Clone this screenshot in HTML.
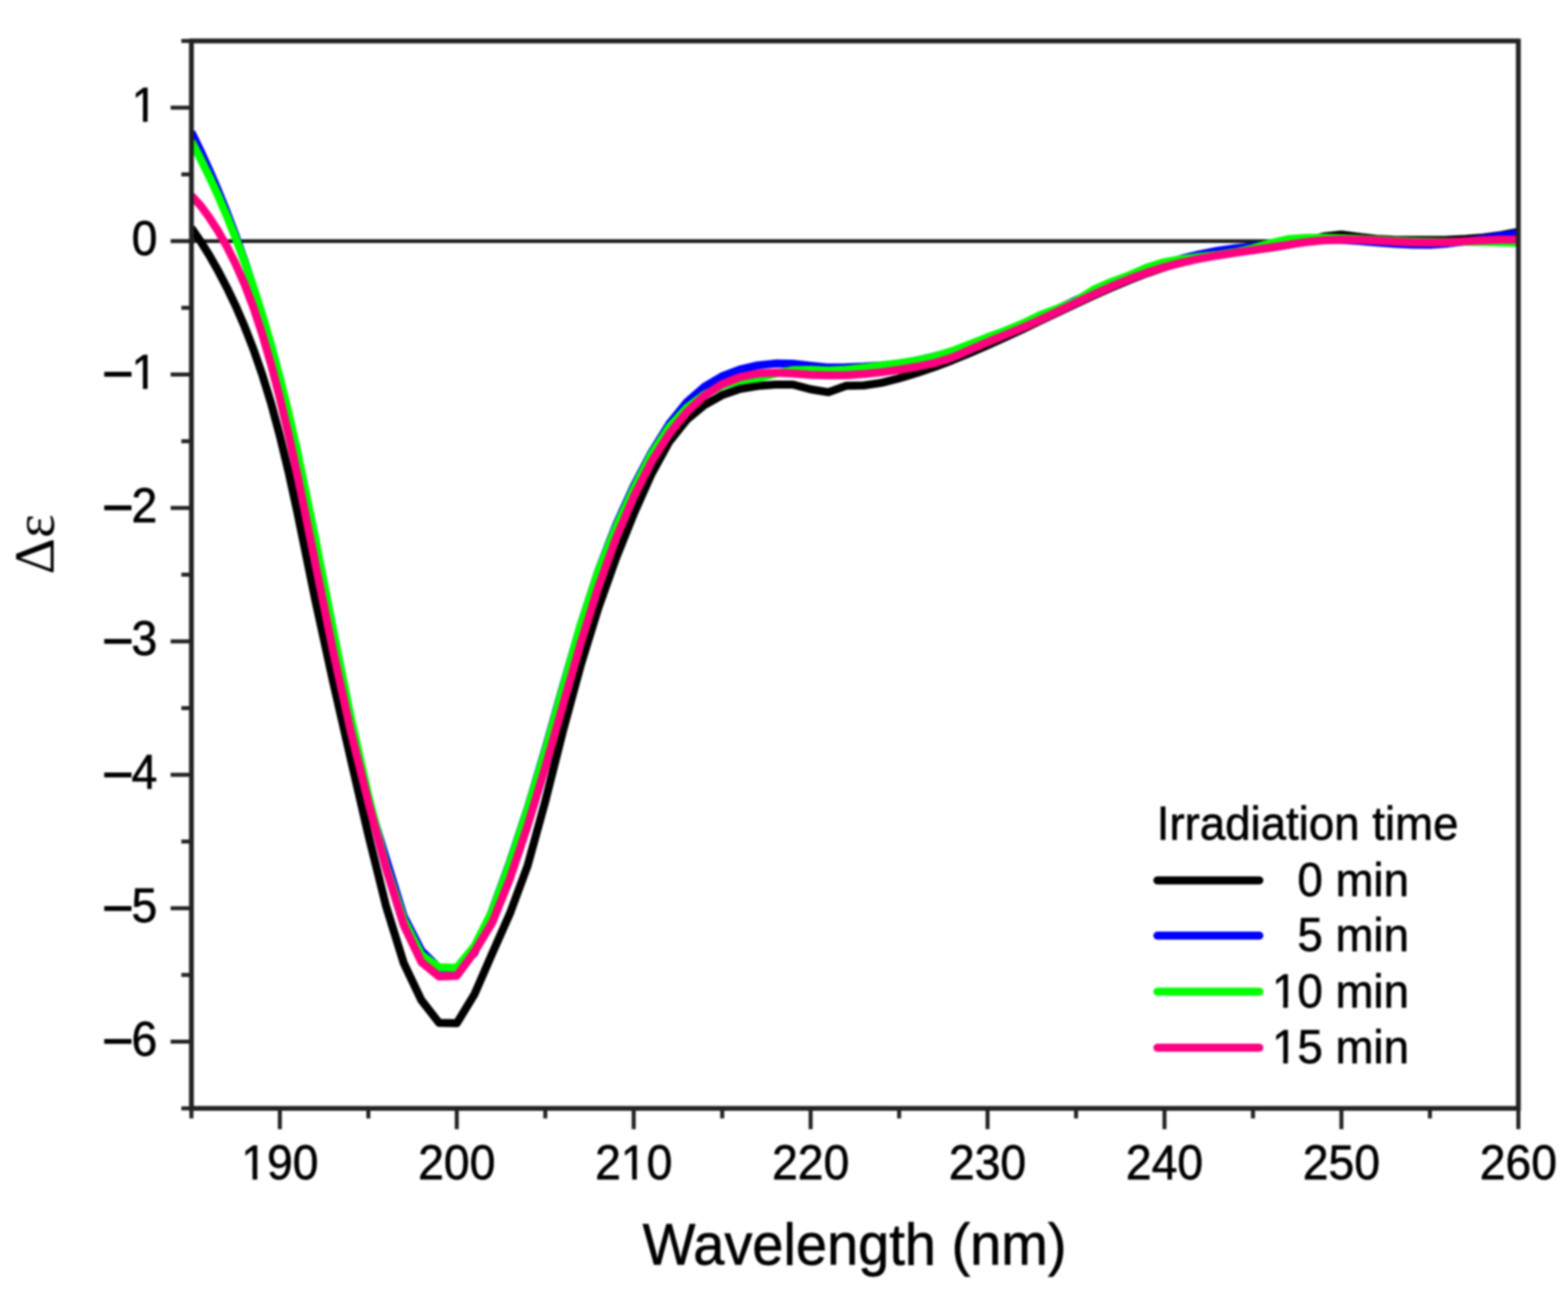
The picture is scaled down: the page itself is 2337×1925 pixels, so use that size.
<!DOCTYPE html>
<html><head><meta charset="utf-8"><title>CD spectra</title>
<style>
html,body{margin:0;padding:0;background:#fff;}
body{width:2337px;height:1925px;overflow:hidden;}
svg{display:block;filter:blur(1.4px);}
.t{font-family:"Liberation Sans",Arial,sans-serif;font-size:69px;fill:#000;stroke:#000;stroke-width:0.9px;}
.lg{font-size:68px;}
.dash{stroke:#000;stroke-width:2.3px;}
.xt{font-family:"Liberation Sans",Arial,sans-serif;font-size:84px;fill:#000;stroke:#000;stroke-width:0.9px;}
.yt{font-family:"Liberation Serif","Times New Roman",serif;font-size:84px;fill:#000;}
</style></head><body>
<svg width="2337" height="1925" viewBox="0 0 2337 1925">
<rect width="2337" height="1925" fill="#fff"/>
<line x1="285.3" y1="359.2" x2="2263.0" y2="359.2" stroke="#1a1a1a" stroke-width="5.5"/>
<defs><clipPath id="pa"><rect x="285.3" y="0" width="1977.7" height="1925"/></clipPath></defs>
<g clip-path="url(#pa)">
<path d="M285.3,339.7 L298.5,358.8 L311.7,380.0 L324.9,403.1 L338.0,428.2 L351.2,455.7 L364.4,486.2 L377.6,520.0 L390.8,558.0 L404.0,600.8 L417.1,649.4 L430.3,704.1 L443.5,764.8 L469.9,893.9 L496.3,1015.0 L522.6,1129.9 L549.0,1243.9 L575.4,1350.1 L601.7,1434.9 L628.1,1490.3 L654.5,1524.1 L680.8,1524.6 L707.2,1481.4 L733.6,1420.7 L759.9,1361.3 L786.3,1290.0 L812.7,1193.8 L839.1,1089.1 L865.4,991.6 L891.8,905.7 L918.2,831.4 L944.5,765.9 L970.9,706.5 L997.3,658.4 L1023.6,625.4 L1050.0,603.4 L1076.4,588.7 L1102.7,579.5 L1129.1,575.0 L1155.5,573.0 L1181.9,573.0 L1208.2,580.0 L1234.6,584.3 L1261.0,574.8 L1287.3,574.3 L1313.7,570.4 L1340.1,563.7 L1366.4,555.8 L1392.8,546.8 L1419.2,536.8 L1445.6,526.0 L1471.9,514.6 L1498.3,502.6 L1524.7,490.2 L1551.0,477.7 L1577.4,465.1 L1603.8,452.6 L1630.1,440.4 L1656.5,428.6 L1682.9,417.4 L1709.2,407.2 L1735.6,398.2 L1762.0,390.4 L1788.4,384.2 L1814.7,379.6 L1841.1,375.9 L1867.5,372.6 L1893.8,369.1 L1920.2,364.8 L1946.6,359.1 L1972.9,352.3 L1999.3,349.4 L2025.7,352.9 L2052.0,356.0 L2078.4,357.3 L2104.8,357.6 L2131.2,357.6 L2157.5,357.2 L2183.9,356.1 L2210.3,354.0 L2236.6,350.5 L2263.0,345.5" fill="none" stroke="#000000" stroke-width="12" stroke-linejoin="round" stroke-linecap="butt"/>
<path d="M285.3,196.8 L298.5,224.0 L311.7,252.9 L324.9,283.5 L338.0,316.1 L351.2,350.9 L364.4,388.2 L377.6,428.3 L390.8,471.5 L404.0,518.1 L417.1,568.5 L430.3,622.8 L443.5,681.0 L469.9,807.2 L496.3,940.4 L522.6,1073.0 L549.0,1192.4 L575.4,1279.5 L601.7,1365.1 L628.1,1416.4 L654.5,1442.6 L680.8,1443.1 L707.2,1419.9 L733.6,1356.9 L759.9,1284.7 L786.3,1205.0 L812.7,1116.6 L839.1,1022.9 L865.4,931.6 L891.8,850.7 L918.2,782.4 L944.5,724.5 L970.9,674.4 L997.3,631.8 L1023.6,599.3 L1050.0,576.2 L1076.4,560.7 L1102.7,550.6 L1129.1,544.4 L1155.5,541.6 L1181.9,541.9 L1208.2,545.0 L1234.6,547.6 L1261.0,547.3 L1287.3,546.2 L1313.7,544.5 L1340.1,541.6 L1366.4,537.1 L1392.8,531.1 L1419.2,523.8 L1445.6,515.3 L1471.9,505.9 L1498.3,495.4 L1524.7,484.1 L1551.0,472.1 L1577.4,459.7 L1603.8,447.2 L1630.1,434.9 L1656.5,423.2 L1682.9,412.1 L1709.2,402.1 L1735.6,393.1 L1762.0,385.2 L1788.4,378.8 L1814.7,373.7 L1841.1,370.0 L1867.5,367.2 L1893.8,364.5 L1920.2,361.6 L1946.6,359.0 L1972.9,357.4 L1999.3,357.6 L2025.7,359.1 L2052.0,361.2 L2078.4,363.2 L2104.8,364.6 L2131.2,364.7 L2157.5,362.9 L2183.9,359.7 L2210.3,355.7 L2236.6,351.4 L2263.0,347.4" fill="none" stroke="#0000ff" stroke-width="12" stroke-linejoin="round" stroke-linecap="butt"/>
<path d="M285.3,210.6 L298.5,235.8 L311.7,262.6 L324.9,291.1 L338.0,321.6 L351.2,354.4 L364.4,389.6 L377.6,427.7 L390.8,469.0 L404.0,514.0 L417.1,563.0 L430.3,616.5 L443.5,674.5 L469.9,802.6 L496.3,938.1 L522.6,1068.4 L549.0,1185.6 L575.4,1290.2 L601.7,1370.4 L628.1,1422.6 L654.5,1441.3 L680.8,1442.1 L707.2,1409.8 L733.6,1357.7 L759.9,1286.3 L786.3,1206.1 L812.7,1119.3 L839.1,1025.0 L865.4,931.7 L891.8,851.5 L918.2,785.8 L944.5,728.5 L970.9,677.0 L997.3,636.5 L1023.6,607.7 L1050.0,587.9 L1076.4,574.8 L1102.7,567.1 L1129.1,563.6 L1155.5,556.7 L1181.9,551.4 L1208.2,551.1 L1234.6,551.9 L1261.0,550.8 L1287.3,548.0 L1313.7,544.6 L1340.1,541.2 L1366.4,537.2 L1392.8,531.4 L1419.2,523.0 L1445.6,512.9 L1471.9,502.5 L1498.3,492.8 L1524.7,481.9 L1551.0,469.1 L1577.4,459.3 L1603.8,448.2 L1630.1,431.6 L1656.5,420.1 L1682.9,410.3 L1709.2,398.7 L1735.6,390.6 L1762.0,385.9 L1788.4,382.8 L1814.7,379.7 L1841.1,375.8 L1867.5,370.1 L1893.8,362.3 L1920.2,356.3 L1946.6,354.4 L1972.9,354.3 L1999.3,354.9 L2025.7,356.1 L2052.0,357.5 L2078.4,358.8 L2104.8,359.8 L2131.2,360.3 L2157.5,360.4 L2183.9,360.3 L2210.3,360.5 L2236.6,361.0 L2263.0,362.1" fill="none" stroke="#00ff00" stroke-width="12" stroke-linejoin="round" stroke-linecap="butt"/>
<path d="M285.3,291.6 L298.5,305.8 L311.7,323.8 L324.9,344.1 L338.0,367.1 L351.2,393.3 L364.4,423.3 L377.6,457.9 L390.8,497.8 L404.0,543.1 L417.1,593.3 L430.3,648.5 L443.5,708.7 L469.9,839.3 L496.3,969.6 L522.6,1089.3 L549.0,1195.5 L575.4,1293.6 L601.7,1378.4 L628.1,1433.5 L654.5,1455.0 L680.8,1454.0 L707.2,1418.2 L733.6,1374.7 L759.9,1309.6 L786.3,1230.6 L812.7,1143.2 L839.1,1050.7 L865.4,958.8 L891.8,874.7 L918.2,802.0 L944.5,740.3 L970.9,688.2 L997.3,646.5 L1023.6,614.1 L1050.0,589.5 L1076.4,572.3 L1102.7,561.9 L1129.1,556.6 L1155.5,555.2 L1181.9,556.5 L1208.2,558.4 L1234.6,559.3 L1261.0,558.9 L1287.3,557.3 L1313.7,554.6 L1340.1,551.0 L1366.4,546.5 L1392.8,540.9 L1419.2,532.7 L1445.6,521.2 L1471.9,509.8 L1498.3,499.0 L1524.7,488.0 L1551.0,476.2 L1577.4,463.8 L1603.8,451.1 L1630.1,438.7 L1656.5,426.9 L1682.9,416.0 L1709.2,406.3 L1735.6,398.0 L1762.0,391.1 L1788.4,385.4 L1814.7,380.7 L1841.1,376.6 L1867.5,372.7 L1893.8,368.8 L1920.2,364.6 L1946.6,360.7 L1972.9,358.0 L1999.3,356.9 L2025.7,357.2 L2052.0,358.4 L2078.4,359.9 L2104.8,361.1 L2131.2,361.6 L2157.5,361.0 L2183.9,359.6 L2210.3,358.1 L2236.6,357.0 L2263.0,356.9" fill="none" stroke="#ff0080" stroke-width="12" stroke-linejoin="round" stroke-linecap="butt"/>
</g>
<rect x="285.3" y="60.99999999999994" width="1977.7" height="1590.4" fill="none" stroke="#222222" stroke-width="7.2"/>
<line x1="285.3" y1="1651.4" x2="285.3" y2="1666.4" stroke="#222222" stroke-width="6"/>
<line x1="417.1" y1="1651.4" x2="417.1" y2="1682.4" stroke="#222222" stroke-width="6"/>
<line x1="549.0" y1="1651.4" x2="549.0" y2="1666.4" stroke="#222222" stroke-width="6"/>
<line x1="680.8" y1="1651.4" x2="680.8" y2="1682.4" stroke="#222222" stroke-width="6"/>
<line x1="812.7" y1="1651.4" x2="812.7" y2="1666.4" stroke="#222222" stroke-width="6"/>
<line x1="944.5" y1="1651.4" x2="944.5" y2="1682.4" stroke="#222222" stroke-width="6"/>
<line x1="1076.4" y1="1651.4" x2="1076.4" y2="1666.4" stroke="#222222" stroke-width="6"/>
<line x1="1208.2" y1="1651.4" x2="1208.2" y2="1682.4" stroke="#222222" stroke-width="6"/>
<line x1="1340.1" y1="1651.4" x2="1340.1" y2="1666.4" stroke="#222222" stroke-width="6"/>
<line x1="1471.9" y1="1651.4" x2="1471.9" y2="1682.4" stroke="#222222" stroke-width="6"/>
<line x1="1603.8" y1="1651.4" x2="1603.8" y2="1666.4" stroke="#222222" stroke-width="6"/>
<line x1="1735.6" y1="1651.4" x2="1735.6" y2="1682.4" stroke="#222222" stroke-width="6"/>
<line x1="1867.5" y1="1651.4" x2="1867.5" y2="1666.4" stroke="#222222" stroke-width="6"/>
<line x1="1999.3" y1="1651.4" x2="1999.3" y2="1682.4" stroke="#222222" stroke-width="6"/>
<line x1="2131.2" y1="1651.4" x2="2131.2" y2="1666.4" stroke="#222222" stroke-width="6"/>
<line x1="2263.0" y1="1651.4" x2="2263.0" y2="1682.4" stroke="#222222" stroke-width="6"/>
<line x1="285.3" y1="1651.4" x2="270.3" y2="1651.4" stroke="#222222" stroke-width="6"/>
<line x1="285.3" y1="1552.0" x2="254.3" y2="1552.0" stroke="#222222" stroke-width="6"/>
<line x1="285.3" y1="1452.6" x2="270.3" y2="1452.6" stroke="#222222" stroke-width="6"/>
<line x1="285.3" y1="1353.2" x2="254.3" y2="1353.2" stroke="#222222" stroke-width="6"/>
<line x1="285.3" y1="1253.8" x2="270.3" y2="1253.8" stroke="#222222" stroke-width="6"/>
<line x1="285.3" y1="1154.4" x2="254.3" y2="1154.4" stroke="#222222" stroke-width="6"/>
<line x1="285.3" y1="1055.0" x2="270.3" y2="1055.0" stroke="#222222" stroke-width="6"/>
<line x1="285.3" y1="955.6" x2="254.3" y2="955.6" stroke="#222222" stroke-width="6"/>
<line x1="285.3" y1="856.2" x2="270.3" y2="856.2" stroke="#222222" stroke-width="6"/>
<line x1="285.3" y1="756.8" x2="254.3" y2="756.8" stroke="#222222" stroke-width="6"/>
<line x1="285.3" y1="657.4" x2="270.3" y2="657.4" stroke="#222222" stroke-width="6"/>
<line x1="285.3" y1="558.0" x2="254.3" y2="558.0" stroke="#222222" stroke-width="6"/>
<line x1="285.3" y1="458.6" x2="270.3" y2="458.6" stroke="#222222" stroke-width="6"/>
<line x1="285.3" y1="359.2" x2="254.3" y2="359.2" stroke="#222222" stroke-width="6"/>
<line x1="285.3" y1="259.8" x2="270.3" y2="259.8" stroke="#222222" stroke-width="6"/>
<line x1="285.3" y1="160.4" x2="254.3" y2="160.4" stroke="#222222" stroke-width="6"/>
<line x1="285.3" y1="61.0" x2="270.3" y2="61.0" stroke="#222222" stroke-width="6"/>
<line x1="1725" y1="1311.8" x2="1877" y2="1311.8" stroke="#000000" stroke-width="12" stroke-linecap="round"/>
<line x1="1725" y1="1394" x2="1877" y2="1394" stroke="#0000ff" stroke-width="12" stroke-linecap="round"/>
<line x1="1725" y1="1477.5" x2="1877" y2="1477.5" stroke="#00ff00" stroke-width="12" stroke-linecap="round"/>
<line x1="1725" y1="1561" x2="1877" y2="1561" stroke="#ff0080" stroke-width="12" stroke-linecap="round"/>
<text transform="translate(417.1,1757.3) scale(1,1.042)" text-anchor="middle" class="t">190</text>
<text transform="translate(680.8,1757.3) scale(1,1.042)" text-anchor="middle" class="t">200</text>
<text transform="translate(944.5,1757.3) scale(1,1.042)" text-anchor="middle" class="t">210</text>
<text transform="translate(1208.2,1757.3) scale(1,1.042)" text-anchor="middle" class="t">220</text>
<text transform="translate(1471.9,1757.3) scale(1,1.042)" text-anchor="middle" class="t">230</text>
<text transform="translate(1735.6,1757.3) scale(1,1.042)" text-anchor="middle" class="t">240</text>
<text transform="translate(1999.3,1757.3) scale(1,1.042)" text-anchor="middle" class="t">250</text>
<text transform="translate(2263.0,1757.3) scale(1,1.042)" text-anchor="middle" class="t">260</text>
<text transform="translate(234.5,181.1) scale(1,1.042)" text-anchor="end" class="t">1</text>
<text transform="translate(234.5,379.9) scale(1,1.042)" text-anchor="end" class="t">0</text>
<text transform="translate(0,578.7) scale(1,1.042)" text-anchor="end" class="t"><tspan class="dash" x="195" dy="-2.30">–</tspan><tspan x="234.5" dy="2.30">1</tspan></text>
<text transform="translate(0,777.5) scale(1,1.042)" text-anchor="end" class="t"><tspan class="dash" x="195" dy="-2.30">–</tspan><tspan x="234.5" dy="2.30">2</tspan></text>
<text transform="translate(0,976.3) scale(1,1.042)" text-anchor="end" class="t"><tspan class="dash" x="195" dy="-2.30">–</tspan><tspan x="234.5" dy="2.30">3</tspan></text>
<text transform="translate(0,1175.1) scale(1,1.042)" text-anchor="end" class="t"><tspan class="dash" x="195" dy="-2.30">–</tspan><tspan x="234.5" dy="2.30">4</tspan></text>
<text transform="translate(0,1373.9) scale(1,1.042)" text-anchor="end" class="t"><tspan class="dash" x="195" dy="-2.30">–</tspan><tspan x="234.5" dy="2.30">5</tspan></text>
<text transform="translate(0,1572.7) scale(1,1.042)" text-anchor="end" class="t"><tspan class="dash" x="195" dy="-2.30">–</tspan><tspan x="234.5" dy="2.30">6</tspan></text>
<text transform="translate(1273.6,1883.5) scale(0.993,1.042)" text-anchor="middle" class="xt">Wavelength (nm)</text>
<text transform="translate(80,811) rotate(-90)" text-anchor="middle" class="yt">Δε</text>
<text transform="translate(1724.0,1251.2) scale(1,1.042)" class="t lg">Irradiation time</text>
<text transform="translate(2100.0,1334.8) scale(1,1.042)" text-anchor="end" class="t lg">0 min</text>
<text transform="translate(2100.0,1417.0) scale(1,1.042)" text-anchor="end" class="t lg">5 min</text>
<text transform="translate(2100.0,1500.5) scale(1,1.042)" text-anchor="end" class="t lg">10 min</text>
<text transform="translate(2100.0,1584.0) scale(1,1.042)" text-anchor="end" class="t lg">15 min</text>
<rect x="362.2" y="1749.9" width="14.2" height="9.4" fill="#fff"/>
<rect x="383.5" y="1749.9" width="14.2" height="9.4" fill="#fff"/>
<rect x="928.0" y="1749.9" width="14.2" height="9.4" fill="#fff"/>
<rect x="949.2" y="1749.9" width="14.2" height="9.4" fill="#fff"/>
<rect x="198.8" y="173.7" width="14.2" height="9.4" fill="#fff"/>
<rect x="220.0" y="173.7" width="14.2" height="9.4" fill="#fff"/>
<rect x="198.8" y="571.3" width="14.2" height="9.4" fill="#fff"/>
<rect x="220.0" y="571.3" width="14.2" height="9.4" fill="#fff"/>
<rect x="1898.5" y="1493.2" width="14.0" height="9.3" fill="#fff"/>
<rect x="1919.5" y="1493.2" width="14.0" height="9.3" fill="#fff"/>
<rect x="1898.5" y="1576.7" width="14.0" height="9.3" fill="#fff"/>
<rect x="1919.5" y="1576.7" width="14.0" height="9.3" fill="#fff"/>
</svg>
</body></html>
